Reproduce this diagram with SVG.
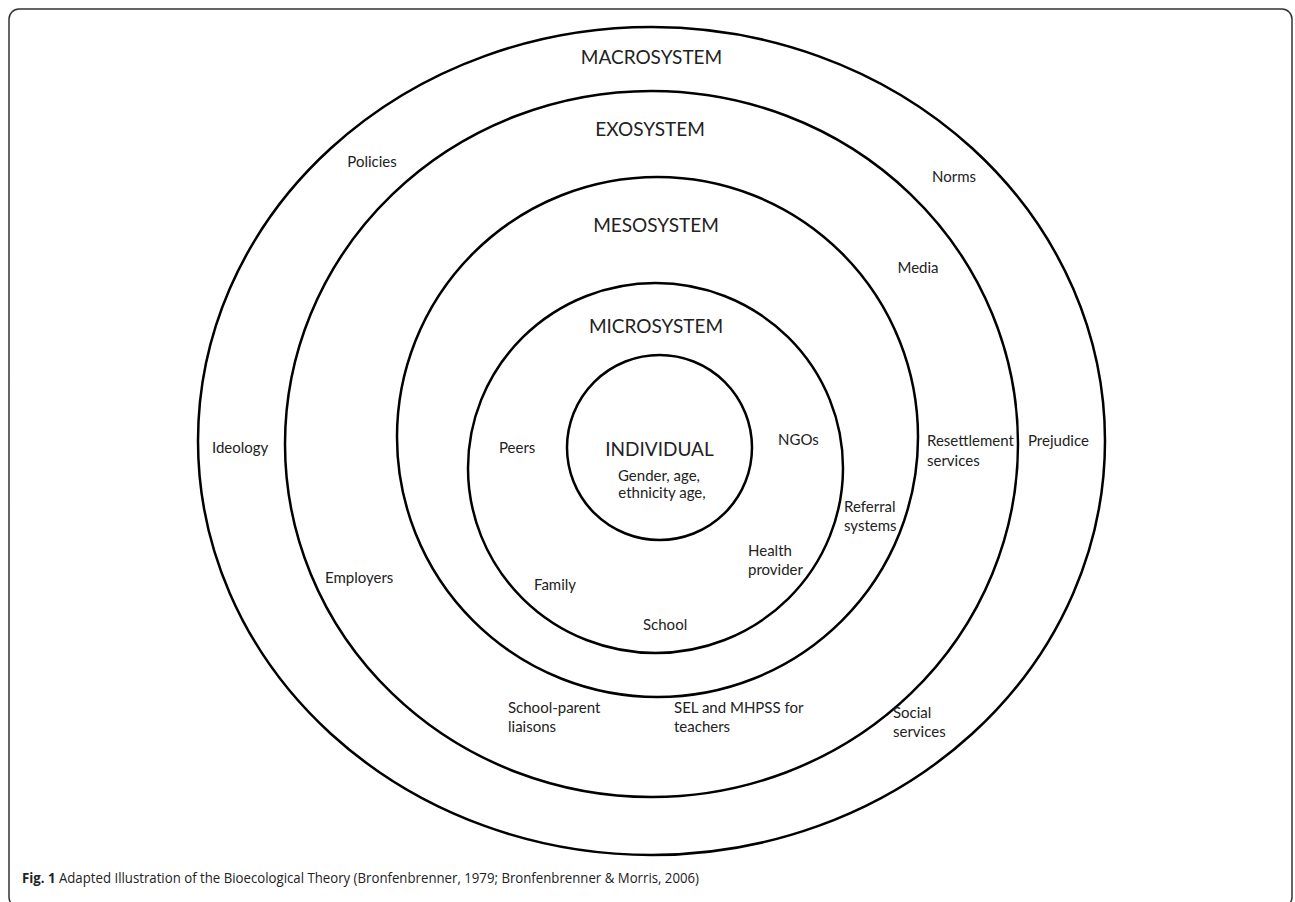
<svg xmlns="http://www.w3.org/2000/svg" width="1295" height="902" viewBox="0 0 1295 902">
<style>
.ring{fill:none;stroke:#000;stroke-width:2.5}
.h{font-family:Lato,"Open Sans",sans-serif;font-size:19px;fill:#222;text-anchor:middle}
.t{font-family:Lato,"Open Sans",sans-serif;font-size:15px;fill:#222}
.c{font-family:"Open Sans",sans-serif;font-size:14px;fill:#222}
</style>
<rect x="9" y="9" width="1283" height="898" rx="10" fill="#fff" stroke="#333" stroke-width="1.5"/>
<g id="macrosystem">
<ellipse class="ring" cx="651.5" cy="441" rx="453.5" ry="414"/>
<text class="h" x="651.5" y="64">MACROSYSTEM</text>
<text class="t" x="372" y="167" text-anchor="middle">Policies</text>
<text class="t" x="954" y="182" text-anchor="middle">Norms</text>
<text class="t" x="212" y="453">Ideology</text>
<text class="t" x="1028" y="446">Prejudice</text>
</g>
<g id="exosystem">
<ellipse class="ring" cx="651.5" cy="444" rx="366.5" ry="353"/>
<text class="h" x="650" y="136">EXOSYSTEM</text>
<text class="t" x="918" y="273" text-anchor="middle">Media</text>
<text class="t" x="927" y="446">Resettlement</text>
<text class="t" x="927" y="466">services</text>
<text class="t" x="325" y="583">Employers</text>
<text class="t" x="893" y="718">Social</text>
<text class="t" x="893" y="737">services</text>
</g>
<g id="mesosystem">
<ellipse class="ring" cx="657.5" cy="437" rx="260.5" ry="260"/>
<text class="h" x="656" y="232">MESOSYSTEM</text>
<text class="t" x="844" y="512">Referral</text>
<text class="t" x="844" y="531">systems</text>
<text class="t" x="508" y="713">School-parent</text>
<text class="t" x="508" y="732">liaisons</text>
<text class="t" x="674" y="713">SEL and MHPSS for</text>
<text class="t" x="674" y="732">teachers</text>
</g>
<g id="microsystem">
<ellipse class="ring" cx="655.5" cy="468" rx="187.5" ry="185"/>
<text class="h" x="656" y="333">MICROSYSTEM</text>
<text class="t" x="499" y="453">Peers</text>
<text class="t" x="778" y="445">NGOs</text>
<text class="t" x="748" y="556">Health</text>
<text class="t" x="748" y="575">provider</text>
<text class="t" x="534" y="590">Family</text>
<text class="t" x="643" y="630">School</text>
</g>
<g id="individual">
<circle class="ring" cx="659.5" cy="447.5" r="92.5"/>
<text class="h" x="659.5" y="456">INDIVIDUAL</text>
<text class="t" x="659" y="481" text-anchor="middle">Gender, age,</text>
<text class="t" x="662" y="498" text-anchor="middle">ethnicity age,</text>
</g>
<g id="connectors"/>
<text class="c" x="22" y="883" textLength="677" lengthAdjust="spacingAndGlyphs"><tspan font-weight="bold">Fig. 1</tspan> Adapted Illustration of the Bioecological Theory (Bronfenbrenner, 1979; Bronfenbrenner &amp; Morris, 2006)</text>
</svg>
